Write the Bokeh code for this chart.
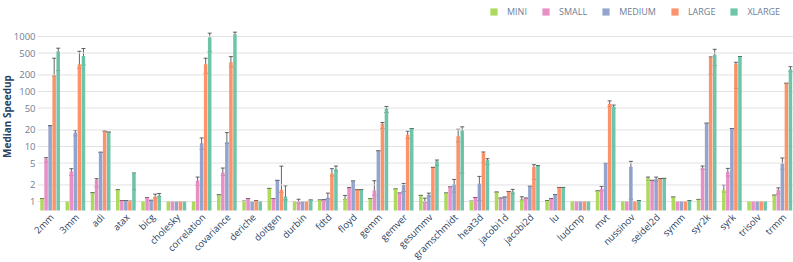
import math
from bokeh.plotting import figure
from bokeh.models import (Range1d, ColumnDataSource, Legend, LegendItem, Whisker, TeeHead,
                          LabelSet, Label)
from bokeh.core.properties import value
from bokeh.transform import dodge
from bokeh.embed import file_html
from bokeh.resources import INLINE

CATEGORIES = ["2mm", "3mm", "adi", "atax", "bicg", "cholesky", "correlation", "covariance",
              "deriche", "doitgen", "durbin", "fdtd", "floyd", "gemm", "gemver", "gesummv",
              "gramschmidt", "heat3d", "jacobi1d", "jacobi2d", "lu", "ludcmp", "mvt",
              "nussinov", "seidel2d", "symm", "syr2k", "syrk", "trisolv", "trmm"]

SERIES = ["MINI", "SMALL", "MEDIUM", "LARGE", "XLARGE"]

MINI = [1.13, 1.0, 1.44, 1.63, 1.0, 1.0, 1.0, 1.32, 1.01, 1.73, 1.0, 1.06, 1.12, 1.13, 1.68,
        1.29, 1.42, 1.01, 1.48, 1.09, 1.03, 1.0, 1.55, 1.0, 2.67, 1.2, 1.09, 1.63, 1.0, 1.3]
SMALL = [6.0, 3.5, 2.5, 1.04, 1.18, 1.0, 2.4, 3.38, 1.13, 1.13, 1.0, 1.07, 1.78, 1.59, 1.42,
         1.0, 1.83, 1.18, 1.15, 1.15, 1.12, 1.0, 1.7, 1.0, 2.42, 1.0, 4.12, 3.48, 1.0, 1.63]
MEDIUM = [23.7, 18.0, 7.85, 1.03, 1.05, 1.0, 11.4, 12.1, 1.0, 2.42, 1.0, 1.17, 2.35, 8.3, 1.99,
          1.32, 2.04, 2.1, 1.2, 1.9, 1.34, 1.0, 4.94, 4.3, 2.56, 1.0, 26.5, 21.2, 1.0, 4.87]
LARGE = [195, 309, 19.0, 1.01, 1.22, 1.0, 313, 340, 1.03, 1.63, 1.0, 3.24, 1.63, 25.8, 16.3,
         4.17, 15.4, 7.7, 1.52, 4.24, 1.8, 1.0, 60, 1.0, 2.6, 1.0, 414, 323, 1.0, 141]
XLARGE = [535, 444, 18.2, 3.3, 1.29, 1.0, 960, 1100, 1.0, 1.23, 1.06, 3.84, 1.63, 49, 21.2,
          5.4, 19.5, 5.7, 1.52, 4.47, 1.8, 1.0, 52.6, 1.03, 2.63, 1.03, 464, 432, 1.0, 254]

# visible error bars: (category, series) -> (lower, upper); others have a cap only
ERRORS = {
    ("2mm", "SMALL"): (5.15, 6.27), ("2mm", "LARGE"): (190, 403), ("2mm", "XLARGE"): (240, 613),
    ("3mm", "SMALL"): (2.98, 3.95), ("3mm", "MEDIUM"): (15.6, 19.5), ("3mm", "LARGE"): (264, 539),
    ("3mm", "XLARGE"): (303, 605), ("adi", "SMALL"): (1.83, 2.6), ("atax", "XLARGE"): (1.63, 3.3),
    ("bicg", "LARGE"): (1.15, 1.36), ("bicg", "XLARGE"): (1.22, 1.4),
    ("correlation", "SMALL"): (1.96, 2.78), ("correlation", "MEDIUM"): (8.9, 14.3),
    ("correlation", "LARGE"): (214, 403), ("correlation", "XLARGE"): (532, 1150),
    ("covariance", "SMALL"): (2.98, 4.06), ("covariance", "MEDIUM"): (11.3, 17.9),
    ("covariance", "LARGE"): (281, 431), ("covariance", "XLARGE"): (1000, 1200),
    ("doitgen", "LARGE"): (1.45, 4.4), ("doitgen", "XLARGE"): (1.07, 1.93),
    ("durbin", "SMALL"): (0.93, 1.1), ("fdtd", "MEDIUM"): (1.12, 1.42),
    ("fdtd", "LARGE"): (2.9, 3.95), ("fdtd", "XLARGE"): (3.58, 4.42),
    ("floyd", "MINI"): (1.09, 1.29), ("gemm", "SMALL"): (1.29, 2.39),
    ("gemm", "LARGE"): (21.2, 27.3), ("gemm", "XLARGE"): (41.5, 53.4),
    ("gemver", "MEDIUM"): (1.52, 2.13), ("gemver", "LARGE"): (13.9, 19.0),
    ("gesummv", "SMALL"): (0.97, 1.15), ("gesummv", "MEDIUM"): (1.25, 1.42),
    ("gesummv", "XLARGE"): (4.54, 5.68), ("gramschmidt", "MEDIUM"): (1.48, 2.52),
    ("gramschmidt", "LARGE"): (12.1, 20.6), ("gramschmidt", "XLARGE"): (3.29, 22.8),
    ("heat3d", "MEDIUM"): (1.04, 2.86), ("heat3d", "LARGE"): (5.08, 7.95),
    ("heat3d", "XLARGE"): (4.67, 6.0), ("jacobi1d", "XLARGE"): (1.38, 1.66),
    ("jacobi2d", "MINI"): (1.06, 1.22), ("jacobi2d", "LARGE"): (2.52, 4.67),
    ("mvt", "SMALL"): (1.57, 1.88), ("mvt", "LARGE"): (53.4, 67.6), ("mvt", "XLARGE"): (49.3, 56.7),
    ("nussinov", "MEDIUM"): (1.1, 5.37), ("seidel2d", "MINI"): (2.42, 2.78),
    ("seidel2d", "MEDIUM"): (2.32, 2.78), ("syr2k", "SMALL"): (3.84, 4.42),
    ("syr2k", "LARGE"): (205, 426), ("syr2k", "XLARGE"): (295, 585),
    ("syrk", "MINI"): (1.48, 1.99), ("syrk", "SMALL"): (2.9, 4.0), ("syrk", "LARGE"): (114, 340),
    ("trmm", "SMALL"): (1.38, 1.77), ("trmm", "MEDIUM"): (3.84, 6.18), ("trmm", "XLARGE"): (229, 282),
}

Y_TICKS = [1, 2, 5, 10, 20, 50, 100, 200, 500, 1000]
COLORS = ["#a6d854", "#e78ac3", "#8da0cb", "#fc8d62", "#66c2a5"]

# ---- layout (pixels). The frame fills the whole figure; tick labels, legend and
# category labels are drawn inside it, around the bar region.
FIG_W, FIG_H = 793, 262
CAT_PX = 25.25            # width of one category
PLOT_LEFT_PX = 37         # left edge of the first category
PX_PER_DECADE = 55.0
Y1000_PX, Y1_PX, BAR_BASE_PX = 36, 201, 210
X_START = -0.5 - PLOT_LEFT_PX / CAT_PX
X_END = X_START + FIG_W / CAT_PX
Y_END = 1000 * 10 ** (Y1000_PX / PX_PER_DECADE)
Y_START = 10 ** (-(FIG_H - Y1_PX) / PX_PER_DECADE)
BAR_BOTTOM = 10 ** (-(BAR_BASE_PX - Y1_PX) / PX_PER_DECADE)

X_IDX = list(range(len(CATEGORIES)))

p = figure(x_range=Range1d(X_START, X_END), y_axis_type="log",
           y_range=Range1d(Y_START, Y_END), width=FIG_W, height=FIG_H,
           output_backend="svg", toolbar_location=None,
           min_border_left=0, min_border_right=0, min_border_top=0, min_border_bottom=0)
p.outline_line_color = None
p.background_fill_color = "white"
p.xaxis.visible = False
p.yaxis.visible = False
p.xgrid.visible = False
p.ygrid.visible = False

# horizontal gridlines at the y ticks, over the plotting area only
grid_src = ColumnDataSource(dict(y=Y_TICKS, t=[str(v) for v in Y_TICKS],
                                 x0=[-0.5] * len(Y_TICKS), x1=[X_END] * len(Y_TICKS),
                                 xl=[X_START] * len(Y_TICKS)))
p.segment(x0="x0", x1="x1", y0="y", y1="y", source=grid_src,
          line_color="#e2e2e2", line_width=1)

values = [MINI, SMALL, MEDIUM, LARGE, XLARGE]
items = []
step = 0.16
for i, (name, vals, col) in enumerate(zip(SERIES, values, COLORS)):
    lo, hi = [], []
    for c, v in zip(CATEGORIES, vals):
        e = ERRORS.get((c, name), (v, v))
        lo.append(e[0]); hi.append(e[1])
    src = ColumnDataSource(dict(x=X_IDX, top=vals, lo=lo, hi=hi))
    off = (i - 2) * step
    r = p.vbar(x=dodge("x", off), top="top", bottom=BAR_BOTTOM,
               width=0.14, source=src, fill_color=col, line_color=None, fill_alpha=0.95)
    w = Whisker(source=src, base=dodge("x", off), upper="hi", lower="lo",
                line_color="#333333", line_alpha=0.75, line_width=1,
                upper_head=TeeHead(size=4, line_color="#333333", line_alpha=0.75, line_width=1),
                lower_head=TeeHead(size=4, line_color="#333333", line_alpha=0.75, line_width=1))
    p.add_layout(w)
    items.append(LegendItem(label=name, renderers=[r]))

legend = Legend(items=items, orientation="horizontal", location=(489, FIG_H - 18),
                label_text_font="Open Sans", label_text_font_size="9px",
                label_text_color="#6f7d95", glyph_width=9, glyph_height=9,
                label_height=12, label_standoff=9, spacing=14, padding=0, margin=0,
                border_line_color=None, background_fill_alpha=0)
p.add_layout(legend)

# y tick labels
ytl = LabelSet(source=grid_src, x="xl", y="y", text="t", x_offset=35,
               text_align="right", text_baseline="middle",
               text_font=value("Open Sans"), text_font_size="9.5px", text_color="#6f7d95")
p.add_layout(ytl)

# y axis title
p.add_layout(Label(x=6, y=FIG_H - 116, x_units="screen", y_units="screen",
                   angle=math.pi / 2, text="Median Speedup", text_align="center",
                   text_baseline="middle", text_font="Open Sans", text_font_size="10px",
                   text_font_style="bold", text_color="#2a3f5f"))

# category labels, rotated, below the bars
lab_src = ColumnDataSource(dict(x=X_IDX, cat=CATEGORIES, y=[BAR_BOTTOM] * len(CATEGORIES)))
labels = LabelSet(source=lab_src, x="x", y="y", text="cat", angle=math.pi / 4,
                  y_offset=-5, x_offset=2, text_align="right", text_baseline="middle",
                  text_font=value("Open Sans"), text_font_size="9.5px",
                  text_color="#2a3f5f")
p.add_layout(labels)

open("out.html", "w").write(file_html(p, INLINE))
